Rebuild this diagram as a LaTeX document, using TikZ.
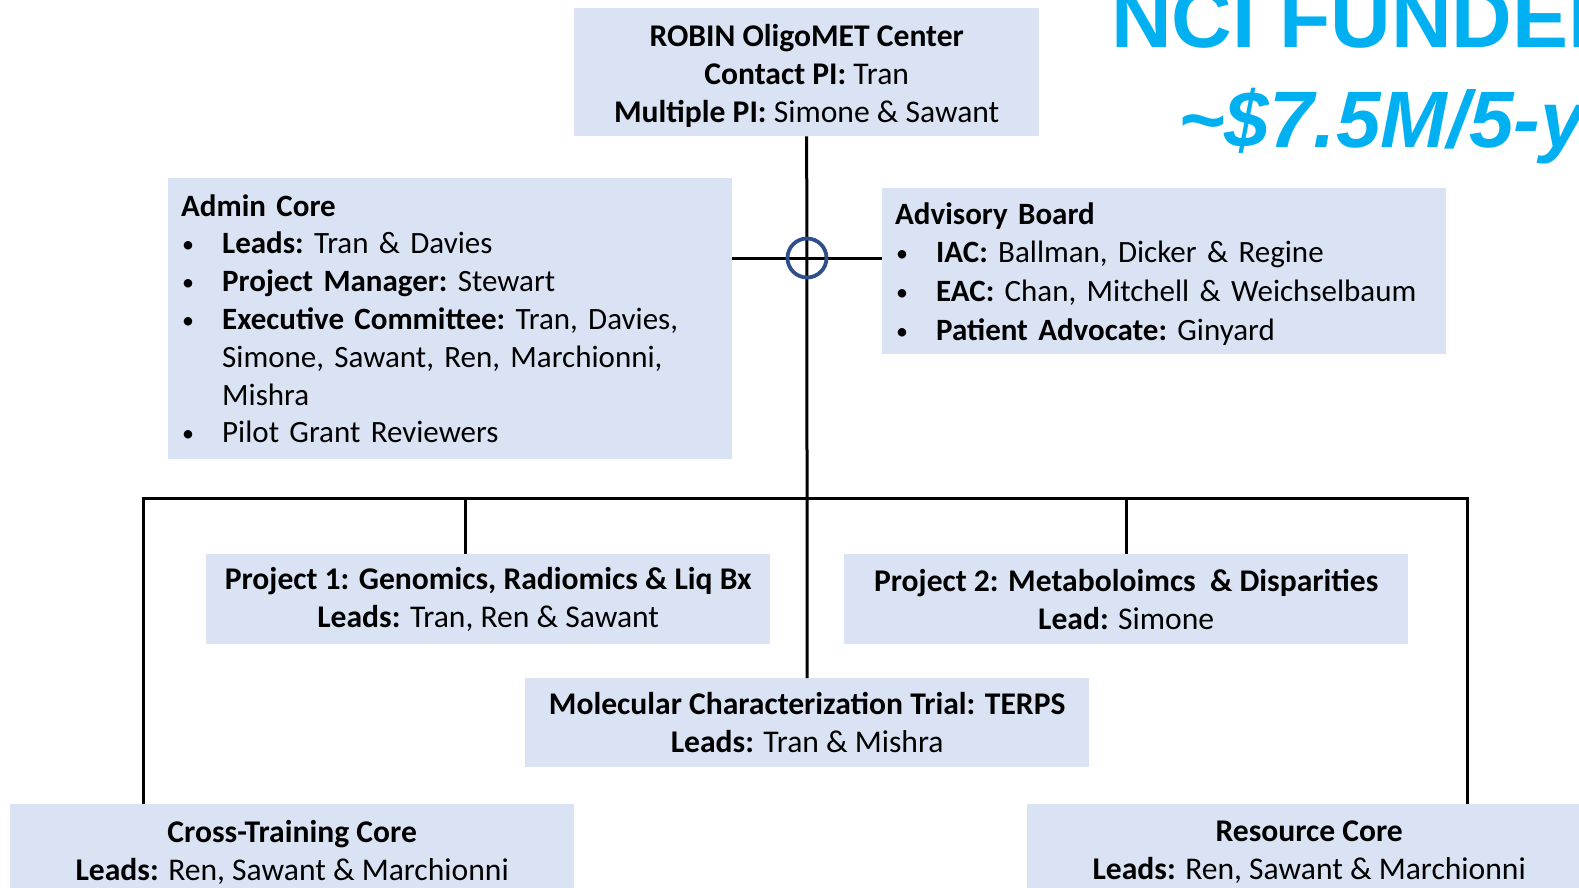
\documentclass[tikz,border=0pt]{standalone}
\usepackage{fontspec}
\setmainfont{Carlito}
\newfontfamily\headfont{Liberation Sans}
\definecolor{boxfill}{HTML}{DAE3F3}
\definecolor{hubring}{HTML}{2F4F8A}
\definecolor{fundblue}{HTML}{00B0F0}
% one bulleted entry with a hanging indent for wrapped lines
\newcommand\listitem[1]{\par\hangindent=41pt\hangafter=1\noindent
  \makebox[41pt][l]{\hspace{1pt}\raisebox{1pt}{\fontsize{24}{24}\selectfont\textbullet}}#1}
\begin{document}
\begin{tikzpicture}[x=1pt,y=-1pt,
  box/.style={fill=boxfill, draw=none, inner ysep=0pt, inner xsep=13pt,
    font=\fontsize{31.6}{38}\selectfont},
  cbox/.style={box, align=center, anchor=north west},
  lbox/.style={box, text width=538pt, anchor=north west,
    font=\fontsize{31}{#1}\selectfont\frenchspacing},
  link/.style={line width=3pt, black}]
\useasboundingbox (0,0) rectangle (1579,888);
\clip (0,0) rectangle (1579,888);

% headline
\node[anchor=base west, inner sep=0pt, text=fundblue,
  font=\headfont\bfseries\fontsize{84}{84}\selectfont] (fund) at (1111,48) {NCI FUNDED};
\node[anchor=base west, inner sep=0pt, text=fundblue,
  font=\headfont\bfseries\itshape\fontsize{80}{80}\selectfont] (amount) at (1178,147) {\textasciitilde\$7.5M/5-yr};

% boxes
\node[cbox, minimum width=465pt, minimum height=128pt] (center) at (574,8)
  {\rule{0pt}{29pt}\textbf{ROBIN OligoMET Center}\\ \textbf{Contact PI:} Tran\\ \textbf{Multiple PI:} Simone \& Sawant};

\node[lbox=37.8, minimum height=281pt] (admin) at (168,178)
  {\raggedright\textbf{Admin Core}
   \listitem{\textbf{Leads:} Tran \& Davies}
   \listitem{\textbf{Project Manager:} Stewart}
   \listitem{\textbf{Executive Committee:} Tran, Davies,\newline Simone, Sawant, Ren, Marchionni,\newline Mishra}
   \listitem{Pilot Grant Reviewers}\par};

\node[lbox=38.6, minimum height=166pt] (adv) at (882,188)
  {\raggedright\rule{0pt}{27pt}\textbf{Advisory Board}
   \listitem{\textbf{IAC:} Ballman, Dicker \& Regine}
   \listitem{\textbf{EAC:} Chan, Mitchell \& Weichselbaum}
   \listitem{\textbf{Patient Advocate:} Ginyard}\par};

\node[cbox, minimum width=564pt, minimum height=90pt] (p1) at (206,554)
  {\textbf{Project 1: Genomics, Radiomics \& Liq Bx}\\ \textbf{Leads:} Tran, Ren \& Sawant};

\node[cbox, minimum width=564pt, minimum height=90pt] (p2) at (844,554)
  {\textbf{Project 2: Metaboloimcs~ \& Disparities}\\ \textbf{Lead:} Simone};

\node[cbox, minimum width=564pt, minimum height=89pt] (mol) at (525,678)
  {\textbf{Molecular Characterization Trial: TERPS}\\ \textbf{Leads:} Tran \& Mishra};

\node[cbox, minimum width=564pt, minimum height=96pt] (cross) at (10,804)
  {\textbf{Cross-Training Core}\\ \textbf{Leads:} Ren, Sawant \& Marchionni};

\node[cbox, minimum width=564pt, minimum height=96pt] (res) at (1027,804)
  {\textbf{Resource Core}\\ \textbf{Leads:} Ren, Sawant \& Marchionni};

% connectors
\coordinate (hub) at (807,258);
\coordinate (busL) at (143,498);
\coordinate (busR) at (1467,498);
\coordinate (tap1) at (465,498);
\coordinate (tap2) at (1126,498);

\draw[link] (center.south) -- (mol.north);
\draw[link] (admin.east |- hub) -- (adv.west |- hub);
\draw[link] (cross.north -| busL) -- (busL) -- (busR) -- (res.north -| busR);
\draw[link] (tap1) -- (tap1 |- p1.north);
\draw[link] (tap2) -- (tap2 |- p2.north);
\draw[hubring, line width=3.8pt] (hub) circle[radius=19.5pt];
\end{tikzpicture}
\end{document}
